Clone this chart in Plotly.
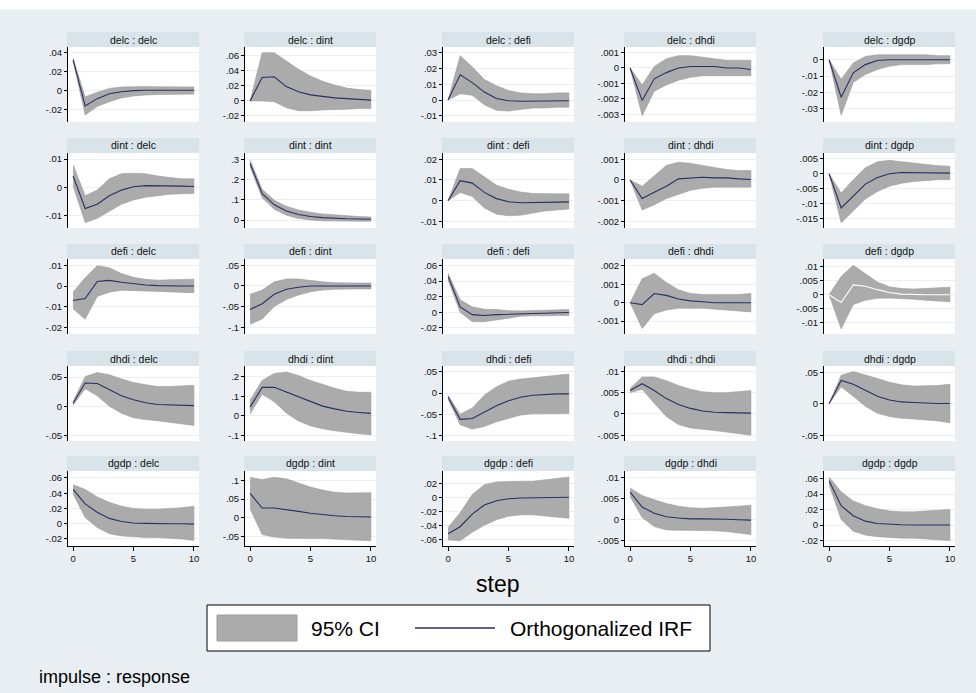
import plotly.graph_objects as go

W, H = 976, 693

variables = ["delc", "dint", "defi", "dhdi", "dgdp"]
steps = list(range(11))

# ---------- data: impulse rows, each holds 5 responses (delc, dint, defi, dhdi, dgdp)
irf_delc = [
    [0.032, -0.0165, -0.0088, -0.0036, -0.0015, -0.0003, 0, 0, 0, 0, 0],
    [0, 0.031, 0.032, 0.019, 0.012, 0.008, 0.006, 0.004, 0.003, 0.002, 0.001],
    [0, 0.016, 0.011, 0.005, 0.001, -0.0005, -0.0008, -0.0008, -0.0005, -0.0005, -0.0005],
    [0, -0.0021, -0.0007, -0.0003, 0, 0.0001, 0.0001, 0.0001, 0, 0, -0.0001],
    [0, -0.023, -0.008, -0.003, -0.0005, 0, 0, 0, 0, 0, 0],
]
hi_delc = [
    [0.034, -0.007, -0.002, 0.002, 0.0035, 0.004, 0.004, 0.0038, 0.0036, 0.0035, 0.0035],
    [0, 0.064, 0.064, 0.053, 0.042, 0.033, 0.026, 0.021, 0.017, 0.015, 0.014],
    [0, 0.028, 0.021, 0.013, 0.009, 0.006, 0.0045, 0.004, 0.004, 0.0045, 0.0045],
    [0, -0.0011, 0.0001, 0.0006, 0.0008, 0.0008, 0.0007, 0.0006, 0.0005, 0.0005, 0.0005],
    [0, -0.012, -0.002, 0.002, 0.003, 0.003, 0.003, 0.003, 0.003, 0.0025, 0.0025],
]
lo_delc = [
    [0.031, -0.026, -0.017, -0.012, -0.008, -0.006, -0.005, -0.0045, -0.004, -0.004, -0.004],
    [0, 0.0, -0.001, -0.009, -0.013, -0.013, -0.012, -0.011, -0.011, -0.010, -0.010],
    [0, 0.004, 0.003, -0.003, -0.0065, -0.007, -0.006, -0.005, -0.005, -0.0045, -0.0045],
    [0, -0.0031, -0.0015, -0.0011, -0.0008, -0.0006, -0.0005, -0.0005, -0.0005, -0.0005, -0.0005],
    [0, -0.034, -0.014, -0.009, -0.006, -0.004, -0.003, -0.003, -0.003, -0.0025, -0.0025],
]

irf_dint = [
    [0.004, -0.0075, -0.006, -0.003, -0.001, 0.0002, 0.0006, 0.0006, 0.0005, 0.0004, 0.0003],
    [0.28, 0.13, 0.075, 0.045, 0.027, 0.017, 0.012, 0.008, 0.006, 0.005, 0.004],
    [0, 0.0097, 0.0085, 0.004, 0.001, -0.0005, -0.001, -0.001, -0.0008, -0.0007, -0.0006],
    [0, -0.0009, -0.0006, -0.0003, 0.00005, 0.0001, 0.00013, 0.0001, 0.0001, 0.00005, 0.00002],
    [0, -0.0115, -0.0075, -0.0035, -0.0013, 0.0, 0.0004, 0.0004, 0.0003, 0.0002, 0.0002],
]
hi_dint = [
    [0.008, -0.003, -0.001, 0.003, 0.0048, 0.005, 0.0048, 0.004, 0.0035, 0.003, 0.003],
    [0.297, 0.152, 0.098, 0.068, 0.05, 0.038, 0.03, 0.025, 0.02, 0.017, 0.015],
    [0, 0.0155, 0.0155, 0.0115, 0.0075, 0.0055, 0.0042, 0.0035, 0.0033, 0.0033, 0.0033],
    [0, -0.0003, 0.0002, 0.0007, 0.00085, 0.0008, 0.0007, 0.0006, 0.0005, 0.00045, 0.00045],
    [0, -0.0065, -0.002, 0.002, 0.004, 0.0045, 0.004, 0.0035, 0.003, 0.0027, 0.0025],
]
lo_dint = [
    [0.0005, -0.0125, -0.011, -0.0085, -0.006, -0.0045, -0.0035, -0.003, -0.0025, -0.0023, -0.0022],
    [0.263, 0.11, 0.053, 0.024, 0.008, 0.0, -0.004, -0.005, -0.006, -0.006, -0.006],
    [0, 0.004, 0.002, -0.0035, -0.0065, -0.0073, -0.007, -0.006, -0.005, -0.0045, -0.004],
    [0, -0.00145, -0.0012, -0.0009, -0.0007, -0.0005, -0.0004, -0.00035, -0.00035, -0.00035, -0.00035],
    [0, -0.0165, -0.0125, -0.0085, -0.006, -0.0042, -0.0032, -0.0026, -0.0022, -0.002, -0.002],
]

irf_defi = [
    [-0.007, -0.006, 0.0022, 0.0027, 0.0018, 0.001, 0.0005, 0.0002, 0.0, 0.0, 0.0],
    [-0.057, -0.043, -0.02, -0.008, -0.003, 0, 0, 0, 0, 0, 0],
    [0.046, 0.007, -0.003, -0.004, -0.003, -0.0025, -0.0015, -0.001, -0.001, -0.0005, -0.0002],
    [0, -0.0001, 0.0005, 0.0004, 0.0002, 0.0001, 0.00005, 0, 0, 0, 0],
    [0, -0.0028, 0.0035, 0.003, 0.0018, 0.0008, 0.0002, 0, 0, 0, 0],
]
hi_defi = [
    [-0.003, 0.004, 0.0098, 0.0088, 0.006, 0.0042, 0.0032, 0.0028, 0.003, 0.0032, 0.0033],
    [-0.02, -0.01, 0.01, 0.017, 0.017, 0.013, 0.01, 0.008, 0.007, 0.007, 0.007],
    [0.05, 0.016, 0.007, 0.004, 0.0035, 0.002, 0.0018, 0.002, 0.0025, 0.003, 0.0035],
    [0, 0.0013, 0.0016, 0.0011, 0.0007, 0.0005, 0.00045, 0.00045, 0.00045, 0.00045, 0.0005],
    [0, 0.0065, 0.0105, 0.0075, 0.0045, 0.0028, 0.0022, 0.002, 0.0022, 0.0025, 0.0027],
]
lo_defi = [
    [-0.011, -0.016, -0.005, -0.003, -0.002, -0.002, -0.0022, -0.0025, -0.0028, -0.003, -0.0032],
    [-0.093, -0.08, -0.05, -0.033, -0.022, -0.014, -0.01, -0.008, -0.007, -0.007, -0.007],
    [0.041, 0.0, -0.012, -0.012, -0.01, -0.0075, -0.005, -0.0045, -0.0045, -0.0045, -0.004],
    [0, -0.0014, -0.0006, -0.0004, -0.0003, -0.0003, -0.0003, -0.00035, -0.0004, -0.00045, -0.0005],
    [0, -0.0122, -0.0035, -0.002, -0.0013, -0.0012, -0.0013, -0.0016, -0.002, -0.0023, -0.0025],
]

irf_dhdi = [
    [0.005, 0.04, 0.039, 0.028, 0.018, 0.011, 0.006, 0.003, 0.002, 0.001, 0.001],
    [0.045, 0.145, 0.145, 0.122, 0.097, 0.072, 0.05, 0.036, 0.024, 0.018, 0.013],
    [-0.01, -0.062, -0.06, -0.045, -0.03, -0.018, -0.01, -0.005, -0.003, -0.002, -0.002],
    [0.0055, 0.0071, 0.0055, 0.0036, 0.0022, 0.0013, 0.0007, 0.0004, 0.0003, 0.0002, 0.0002],
    [0, 0.037, 0.031, 0.021, 0.012, 0.006, 0.003, 0.002, 0.001, 0.0005, 0.0005],
]
hi_dhdi = [
    [0.008, 0.051, 0.058, 0.054, 0.047, 0.041, 0.037, 0.034, 0.034, 0.035, 0.036],
    [0.08, 0.18, 0.215, 0.223, 0.205, 0.18, 0.16, 0.14, 0.125, 0.12, 0.12],
    [-0.005, -0.05, -0.035, -0.005, 0.015, 0.028, 0.033, 0.036, 0.038, 0.041, 0.045],
    [0.006, 0.0087, 0.0087, 0.0078, 0.0067, 0.0058, 0.0052, 0.005, 0.005, 0.0052, 0.0055],
    [0, 0.045, 0.051, 0.046, 0.04, 0.034, 0.03, 0.028, 0.028, 0.029, 0.031],
]
lo_dhdi = [
    [0.002, 0.03, 0.018, 0.0, -0.012, -0.02, -0.023, -0.025, -0.027, -0.03, -0.033],
    [0.01, 0.11, 0.072, 0.015, -0.025, -0.05, -0.065, -0.075, -0.083, -0.09, -0.095],
    [-0.015, -0.075, -0.085, -0.079, -0.068, -0.06, -0.052, -0.049, -0.048, -0.048, -0.048],
    [0.005, 0.0058, 0.0025, -0.0006, -0.0025, -0.0033, -0.0036, -0.0039, -0.0042, -0.0046, -0.005],
    [0, 0.027, 0.012, -0.004, -0.015, -0.02, -0.023, -0.024, -0.025, -0.027, -0.03],
]

irf_dgdp = [
    [0.045, 0.026, 0.015, 0.007, 0.003, 0.001, 0.0005, 0, 0, 0, -0.0005],
    [0.065, 0.026, 0.026, 0.022, 0.017, 0.012, 0.008, 0.005, 0.003, 0.002, 0.002],
    [-0.052, -0.042, -0.024, -0.011, -0.005, -0.002, -0.001, -0.001, -0.0005, 0, 0],
    [0.0065, 0.003, 0.0015, 0.0007, 0.0004, 0.0002, 0.0002, 0.0002, 0.0001, 0, -0.0001],
    [0.057, 0.025, 0.012, 0.005, 0.002, 0.0008, 0.0003, 0, 0, 0, 0],
]
hi_dgdp = [
    [0.051, 0.045, 0.035, 0.028, 0.023, 0.02, 0.019, 0.019, 0.02, 0.021, 0.023],
    [0.108, 0.102, 0.108, 0.104, 0.093, 0.082, 0.074, 0.068, 0.066, 0.066, 0.067],
    [-0.043, -0.022, 0.004, 0.018, 0.022, 0.023, 0.023, 0.023, 0.025, 0.027, 0.029],
    [0.0075, 0.0057, 0.0047, 0.0038, 0.0032, 0.0028, 0.0027, 0.0028, 0.003, 0.0032, 0.0034],
    [0.062, 0.043, 0.031, 0.025, 0.021, 0.018, 0.017, 0.017, 0.018, 0.019, 0.02],
]
lo_dgdp = [
    [0.039, 0.008, -0.005, -0.013, -0.016, -0.017, -0.018, -0.018, -0.019, -0.02, -0.022],
    [0.024, -0.045, -0.052, -0.055, -0.056, -0.056, -0.056, -0.057, -0.058, -0.06, -0.062],
    [-0.061, -0.062, -0.05, -0.04, -0.032, -0.027, -0.025, -0.025, -0.026, -0.028, -0.03],
    [0.0055, 0.0005, -0.0016, -0.0024, -0.0025, -0.0025, -0.0025, -0.0026, -0.0028, -0.0031, -0.0035],
    [0.052, 0.007, -0.008, -0.013, -0.015, -0.016, -0.017, -0.017, -0.018, -0.019, -0.02],
]

# y-axis tick values per impulse row
yticks_delc = [[-.02, 0, .02, .04], [-.02, 0, .02, .04, .06], [-.01, 0, .01, .02, .03],
               [-.003, -.002, -.001, 0, .001], [-.03, -.02, -.01, 0]]
yticks_dint = [[-.01, 0, .01], [0, .1, .2, .3], [-.01, 0, .01, .02],
               [-.002, -.001, 0, .001], [-.015, -.01, -.005, 0, .005]]
yticks_defi = [[-.02, -.01, 0, .01], [-.1, -.05, 0, .05], [-.02, 0, .02, .04, .06],
               [-.001, 0, .001, .002], [-.01, -.005, 0, .005, .01]]
yticks_dhdi = [[-.05, 0, .05], [-.1, 0, .1, .2], [-.1, -.05, 0, .05],
               [-.005, 0, .005, .01], [-.05, 0, .05]]
yticks_dgdp = [[-.02, 0, .02, .04, .06], [-.05, 0, .05, .1], [-.06, -.04, -.02, 0, .02],
               [-.005, 0, .005, .01], [-.02, 0, .02, .04, .06]]
xticks = [0, 5, 10]

IRF = [irf_delc, irf_dint, irf_defi, irf_dhdi, irf_dgdp]
HI = [hi_delc, hi_dint, hi_defi, hi_dhdi, hi_dgdp]
LO = [lo_delc, lo_dint, lo_defi, lo_dhdi, lo_dgdp]
YT = [yticks_delc, yticks_dint, yticks_defi, yticks_dhdi, yticks_dgdp]

# ---------- layout (axis ranges and pixel geometry)
yranges = [
    [[-0.0334, 0.0456], [-0.028, 0.0715], [-0.0139, 0.0335], [-0.0035, 0.00136], [-0.0382, 0.0078]],
    [[-0.01443, 0.01216], [-0.0396, 0.3317], [-0.0132, 0.02304], [-0.00232, 0.0013], [-0.01822, 0.00695]],
    [[-0.0231, 0.013], [-0.1165, 0.0655], [-0.0278, 0.0683], [-0.0017, 0.002375], [-0.01404, 0.01275]],
    [[-0.0598, 0.0692], [-0.1266, 0.253], [-0.1132, 0.0639], [-0.00636, 0.01126], [-0.0588, 0.0598]],
    [[-0.0292, 0.0691], [-0.0758, 0.125], [-0.0696, 0.0376], [-0.0062, 0.01149], [-0.0271, 0.0697]],
]
col_left = [68, 245, 443, 625, 824]
plot_w = 131
row_top = [47, 153, 259, 366, 471]
plot_h = 75
strip_h = 15

BG = "#e8eef1"
STRIP = "#d9e4ea"
GRID = "#e9f0f3"
BAND = "#ababab"
BAND_EDGE = "#9c9c9c"
LINE = "#282f62"
FONT = "Liberation Sans, Arial, sans-serif"


def px_x(v):
    return v / W


def px_y(v):
    return 1 - v / H


def fmt(v):
    if v == 0:
        return "0"
    s = f"{v:g}"
    return s.replace("0.", ".", 1)


fig = go.Figure()
layout = {}
shapes = []
annotations = []

# white strip at the very top
shapes.append(dict(type="rect", xref="paper", yref="paper", x0=0, x1=1, y0=px_y(9.5), y1=1,
                   fillcolor="white", line=dict(width=0), layer="below"))

for r in range(5):
    for c in range(5):
        k = r * 5 + c + 1
        xa = "x" if k == 1 else f"x{k}"
        ya = "y" if k == 1 else f"y{k}"
        xkey = "xaxis" if k == 1 else f"xaxis{k}"
        ykey = "yaxis" if k == 1 else f"yaxis{k}"
        x0p, x1p = col_left[c], col_left[c] + plot_w
        y0p, y1p = row_top[r], row_top[r] + plot_h

        hi = HI[r][c]
        lo = LO[r][c]
        fig.add_trace(go.Scatter(
            x=steps + steps[::-1], y=hi + lo[::-1], fill="toself", fillcolor=BAND,
            line=dict(color=BAND_EDGE, width=0.6), mode="lines", xaxis=xa, yaxis=ya,
            hoverinfo="skip", showlegend=False))
        lc = "white" if (r == 2 and c == 4) else LINE
        fig.add_trace(go.Scatter(
            x=steps, y=IRF[r][c], mode="lines", line=dict(color=lc, width=1.1),
            xaxis=xa, yaxis=ya, showlegend=False))

        bottom = (r == 4)
        layout[xkey] = dict(
            domain=[px_x(x0p), px_x(x1p)], anchor=ya, range=[-0.42, 10.42],
            showgrid=False, zeroline=False, fixedrange=True,
            showline=bottom, linecolor="black", linewidth=1,
            ticks="outside" if bottom else "", ticklen=4, tickcolor="black",
            tickvals=xticks, ticktext=[str(t) for t in xticks],
            showticklabels=bottom, tickfont=dict(size=9.5, color="#111", family=FONT))
        tv = YT[r][c]
        layout[ykey] = dict(
            domain=[px_y(y1p), px_y(y0p)], anchor=xa, range=yranges[r][c],
            tickvals=tv, ticktext=[fmt(v) for v in tv],
            showgrid=True, gridcolor=GRID, gridwidth=1, zeroline=False, fixedrange=True,
            showline=True, linecolor="black", linewidth=1,
            ticks="outside", ticklen=3, tickcolor="black", tickwidth=1,
            tickfont=dict(size=9.5, color="#111", family=FONT))

        # title strip
        shapes.append(dict(type="rect", xref="paper", yref="paper",
                           x0=px_x(x0p - 1), x1=px_x(x1p), y0=px_y(y0p), y1=px_y(y0p - strip_h),
                           fillcolor=STRIP, line=dict(width=0), layer="below"))
        annotations.append(dict(xref="paper", yref="paper", x=px_x((x0p + x1p) / 2),
                                y=px_y(y0p - strip_h / 2), text=f"{variables[r]} : {variables[c]}",
                                showarrow=False, xanchor="center", yanchor="middle",
                                font=dict(size=10.5, color="#111", family=FONT)))

# x-axis title
annotations.append(dict(xref="paper", yref="paper", x=px_x(497), y=px_y(584), text="step",
                        showarrow=False, xanchor="center", yanchor="middle",
                        font=dict(size=23, color="black", family=FONT)))

# legend box
shapes.append(dict(type="rect", xref="paper", yref="paper", x0=px_x(207), x1=px_x(710),
                   y0=px_y(651), y1=px_y(605), fillcolor="white",
                   line=dict(color="black", width=1)))
shapes.append(dict(type="rect", xref="paper", yref="paper", x0=px_x(217), x1=px_x(297),
                   y0=px_y(641), y1=px_y(615), fillcolor=BAND,
                   line=dict(color=BAND_EDGE, width=1)))
shapes.append(dict(type="line", xref="paper", yref="paper", x0=px_x(415), x1=px_x(495),
                   y0=px_y(628), y1=px_y(628), line=dict(color=LINE, width=1.5)))
annotations.append(dict(xref="paper", yref="paper", x=px_x(309), y=px_y(628), text="95% CI",
                        showarrow=False, xanchor="left", yanchor="middle",
                        font=dict(size=21, color="black", family=FONT)))
annotations.append(dict(xref="paper", yref="paper", x=px_x(508), y=px_y(628),
                        text="Orthogonalized IRF", showarrow=False, xanchor="left",
                        yanchor="middle", font=dict(size=21, color="black", family=FONT)))
annotations.append(dict(xref="paper", yref="paper", x=px_x(37), y=px_y(677),
                        text="impulse : response", showarrow=False, xanchor="left",
                        yanchor="middle", font=dict(size=18, color="black", family=FONT)))

fig.update_layout(
    width=W, height=H, margin=dict(l=0, r=0, t=0, b=0),
    paper_bgcolor=BG, plot_bgcolor="white", showlegend=False,
    shapes=shapes, annotations=annotations, font=dict(family=FONT), **layout)

fig.write_html(
    "out.html", config={"displayModeBar": False},
    post_script="document.body.style.margin='0';document.body.style.padding='0';"
                "document.body.style.overflow='hidden';")
